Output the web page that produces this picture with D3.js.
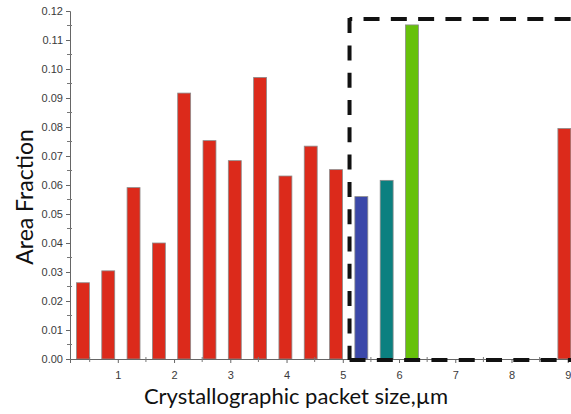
<!DOCTYPE html>
<html><head><meta charset="utf-8">
<script src="https://cdnjs.cloudflare.com/ajax/libs/d3/7.8.5/d3.min.js"></script>
<style>html,body{margin:0;padding:0;background:#fff;overflow:hidden}</style>
</head><body>
<svg id="c" width="571" height="414"></svg>
<script>
// Data
const sizes  = [0.38, 0.83, 1.28, 1.73, 2.18, 2.63, 3.08, 3.53, 3.98, 4.43, 4.88, 5.33, 5.78, 6.23, 8.94];
const values = [0.0263, 0.0304, 0.0591, 0.0400, 0.0917, 0.0753, 0.0684, 0.0971, 0.0631, 0.0734, 0.0653, 0.0560, 0.0616, 0.1152, 0.0795];
const groups = ["r","r","r","r","r","r","r","r","r","r","r","b","t","g","r"];
const colors = {r:"#dc2a1b", b:"#3b48a9", t:"#0b8080", g:"#67c10b"};
const xTicks = [1,2,3,4,5,6,7,8,9];
const yTicks = [0,0.01,0.02,0.03,0.04,0.05,0.06,0.07,0.08,0.09,0.10,0.11,0.12];
const box = {x0: 5.12, x1: 11, y1: 0.1172};
const xLabel = "Crystallographic packet size,µm";
const yLabel = "Area Fraction";

const svg = d3.select("#c");
const x = d3.scaleLinear().domain([0.15, 10]).range([70, 624]);
const y = d3.scaleLinear().domain([0, 0.12]).range([359, 11]);
const bw = x(0.23) - x(0);

// bars
svg.append("g").selectAll("rect").data(values).join("rect")
  .attr("x", (d,i) => x(sizes[i]) - bw/2)
  .attr("y", d => y(d))
  .attr("width", bw)
  .attr("height", d => y(0) - y(d))
  .attr("fill", (d,i) => colors[groups[i]])
  .attr("stroke", "#8c8c8c").attr("stroke-width", 0.8);

// y axis
const ya = svg.append("g").attr("transform", `translate(${x(0.15)},0)`)
  .call(d3.axisLeft(y).tickValues(yTicks).tickFormat(d3.format(".2f")).tickSize(4).tickPadding(3));
ya.select(".domain").attr("stroke", "#666");
ya.selectAll(".tick line").attr("stroke", "#666");
ya.selectAll("text").attr("fill", "#3a3a3a").style("font-family", "Liberation Sans, Arial, sans-serif").style("font-size", "11px");
const yMinor = d3.range(0.005, 0.12, 0.01);
svg.append("g").selectAll("line").data(yMinor).join("line")
  .attr("x1", x(0.15) - 3).attr("x2", x(0.15) + 2)
  .attr("y1", d => y(d)).attr("y2", d => y(d)).attr("stroke", "#777").attr("stroke-width", 1);

// x axis
const xa = svg.append("g").attr("transform", `translate(0,${y(0)})`)
  .call(d3.axisBottom(x).tickValues(xTicks).tickFormat(d3.format("d")).tickSize(4).tickPadding(8));
xa.select(".domain").attr("stroke", "#666");
xa.selectAll(".tick line").attr("stroke", "#666");
xa.selectAll("text").attr("fill", "#3a3a3a").style("font-family", "Liberation Sans, Arial, sans-serif").style("font-size", "11px");
const xMinor = d3.range(0.5, 10, 1);
svg.append("g").selectAll("line").data(xMinor).join("line")
  .attr("x1", d => x(d)).attr("x2", d => x(d))
  .attr("y1", y(0) - 2).attr("y2", y(0) + 3).attr("stroke", "#777").attr("stroke-width", 1);

// dashed highlight box
const bg = svg.append("g").attr("stroke", "#111").attr("stroke-width", 4).attr("fill", "none");
bg.append("line").attr("x1", x(box.x0)).attr("x2", x(box.x0))
  .attr("y1", y(box.y1) - 1).attr("y2", y(0) + 1)
  .attr("stroke-dasharray", "15,12.3");
bg.append("line").attr("x1", x(box.x0)).attr("x2", x(box.x1))
  .attr("y1", y(box.y1)).attr("y2", y(box.y1))
  .attr("stroke-dasharray", "16,11.3").attr("stroke-dashoffset", 13.3);
bg.append("line").attr("x1", x(box.x0)).attr("x2", x(box.x1))
  .attr("y1", y(0) + 1).attr("y2", y(0) + 1)
  .attr("stroke-dasharray", "16,11.3");

// labels
svg.append("text").attr("x", 296).attr("y", 404).attr("text-anchor", "middle")
  .style("font-family", "Lato, 'Open Sans', sans-serif").style("font-size", "22px").attr("fill", "#111")
  .text(xLabel);
svg.append("text").attr("transform", "translate(33,197) rotate(-90)").attr("text-anchor", "middle")
  .style("font-family", "Lato, 'Open Sans', sans-serif").style("font-size", "23px").attr("fill", "#111")
  .text(yLabel);
</script>
</body></html>
